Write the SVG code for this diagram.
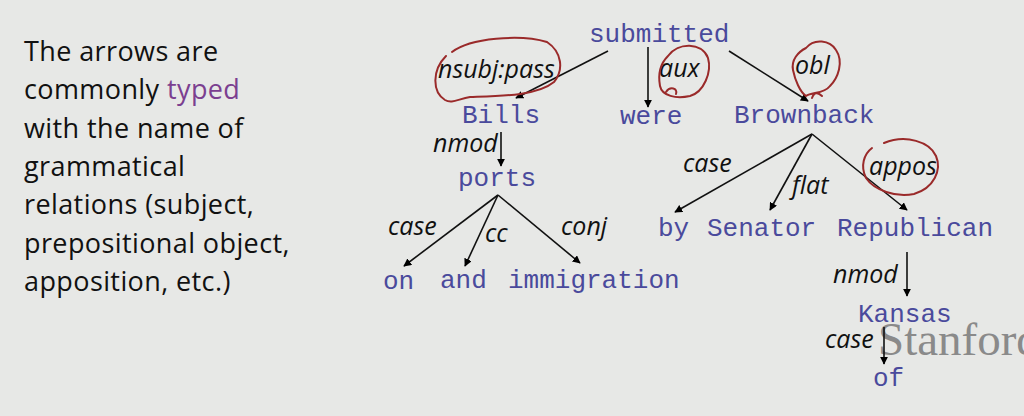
<svg xmlns="http://www.w3.org/2000/svg" width="1024" height="416" viewBox="0 0 1024 416">
<defs>
<marker id="ah" viewBox="0 0 10 10" refX="9" refY="5" markerWidth="8" markerHeight="8" markerUnits="userSpaceOnUse" orient="auto">
<path d="M0,0 L10,5 L0,10 z" fill="#000"/>
</marker>
<style>
.w{font-family:"Liberation Mono","DejaVu Sans Mono",monospace;font-size:26px;fill:#4a4a9c}
.l{font-family:"Open Sans","Liberation Sans",sans-serif;font-style:italic;font-size:25px;fill:#111}
.e{stroke:#111;stroke-width:1.6;fill:none;marker-end:url(#ah)}
.t{font-family:"Open Sans","Liberation Sans",sans-serif;font-size:27px;letter-spacing:0.4px;fill:#111}
.r{stroke:#9a2a2a;stroke-width:2;fill:none;stroke-linecap:round}
</style>
</defs>
<rect width="1024" height="416" fill="#e7e8e6"/>
<text x="878" y="355" font-family="Liberation Serif,serif" font-size="47" fill="#8a8a8a">Stanford</text>
<g id="explanation">
<text class="t" x="24" y="61">The arrows are</text>
<text class="t" x="24" y="99">commonly <tspan fill="#7b3f90">typed</tspan></text>
<text class="t" x="24" y="138">with the name of</text>
<text class="t" x="24" y="176">grammatical</text>
<text class="t" x="24" y="214">relations (subject,</text>
<text class="t" x="24" y="253">prepositional object,</text>
<text class="t" x="24" y="291">apposition, etc.)</text>
</g>
<g id="connectors">
<line class="e" x1="608" y1="51" x2="516" y2="98"/>
<line class="e" x1="648" y1="47" x2="648" y2="107"/>
<line class="e" x1="729" y1="51" x2="808" y2="101"/>
<line class="e" x1="501" y1="132" x2="501" y2="166"/>
<line class="e" x1="498" y1="195" x2="404" y2="266"/>
<line class="e" x1="498" y1="195" x2="465" y2="266"/>
<line class="e" x1="498" y1="195" x2="580" y2="263"/>
<line class="e" x1="812" y1="134" x2="675" y2="212"/>
<line class="e" x1="812" y1="134" x2="770" y2="210"/>
<line class="e" x1="812" y1="134" x2="907" y2="210"/>
<line class="e" x1="907" y1="252" x2="907" y2="296"/>
<line class="e" x1="884" y1="327" x2="884" y2="364"/>
</g>
<g id="edge-labels">
<text class="l" x="438" y="78">nsubj:pass</text>
<text class="l" x="659" y="77">aux</text>
<text class="l" x="795" y="74">obl</text>
<text class="l" x="433" y="152">nmod</text>
<text class="l" x="388" y="235">case</text>
<text class="l" x="485" y="242">cc</text>
<text class="l" x="561" y="235">conj</text>
<text class="l" x="683" y="172">case</text>
<text class="l" x="792" y="194">flat</text>
<text class="l" x="869" y="175">appos</text>
<text class="l" x="833" y="283">nmod</text>
<text class="l" x="825" y="348">case</text>
</g>
<g id="node-submitted"><text class="w" x="589" y="42">submitted</text></g>
<g id="node-Bills"><text class="w" x="462" y="123">Bills</text></g>
<g id="node-were"><text class="w" x="620" y="124">were</text></g>
<g id="node-Brownback"><text class="w" x="734" y="123">Brownback</text></g>
<g id="node-ports"><text class="w" x="458" y="186">ports</text></g>
<g id="node-on"><text class="w" x="383" y="289">on</text></g>
<g id="node-and"><text class="w" x="440" y="288">and</text></g>
<g id="node-immigration"><text class="w" x="508" y="288">immigration</text></g>
<g id="node-by"><text class="w" x="658" y="236">by</text></g>
<g id="node-Senator"><text class="w" x="707" y="236">Senator</text></g>
<g id="node-Republican"><text class="w" x="837" y="236">Republican</text></g>
<g id="node-Kansas"><text class="w" x="858" y="322">Kansas</text></g>
<g id="node-of"><text class="w" x="873" y="386">of</text></g>
<g id="annotations">
<path class="r" d="M452,52 C470,38 520,34 547,42 C562,52 564,70 554,82 C537,96 500,96 470,97 C458,99 452,104 445,100 C432,92 432,70 446,56"/>
<path class="r" d="M668,56 C678,42 702,42 708,58 C712,72 704,92 690,96 C676,99 662,96 660,86 C658,75 660,64 668,56 M666,92 C670,86 678,88 676,94"/>
<path class="r" d="M806,48 C814,38 830,40 836,50 C844,62 838,78 830,86 C824,94 812,92 806,96 C800,92 795,80 793,70 C791,60 798,52 806,48 M812,98 C814,92 818,92 822,96"/>
<path class="r" d="M884,143 C906,134 930,142 936,156 C942,170 934,188 914,194 C896,198 874,190 866,178 C860,166 864,154 872,148"/>
</g>
</svg>
